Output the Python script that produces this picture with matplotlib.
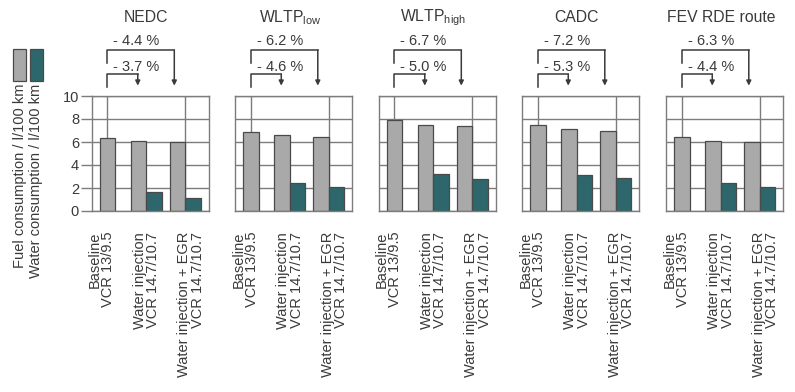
import matplotlib.pyplot as plt
from matplotlib.patches import Rectangle

plt.rcParams["font.family"] = ["Liberation Sans", "DejaVu Sans"]
plt.rcParams["font.size"] = 10.5
plt.rcParams["text.color"] = "#3a3a3a"

cycles = ["NEDC", "WLTP$_{\\mathregular{low}}$", "WLTP$_{\\mathregular{high}}$", "CADC", "FEV RDE route"]
variants = ["Baseline\nVCR 13/9.5", "Water injection\nVCR 14.7/10.7", "Water injection + EGR\nVCR 14.7/10.7"]

fuel = [
    [6.32, 6.07, 6.03],
    [6.90, 6.58, 6.47],
    [7.90, 7.52, 7.36],
    [7.48, 7.09, 6.95],
    [6.41, 6.10, 5.99],
]
water = [
    [0.0, 1.63, 1.10],
    [0.0, 2.46, 2.11],
    [0.0, 3.22, 2.75],
    [0.0, 3.16, 2.87],
    [0.0, 2.46, 2.09],
]
saving_wi = ["- 3.7 %", "- 4.6 %", "- 5.0 %", "- 5.3 %", "- 4.4 %"]
saving_egr = ["- 4.4 %", "- 6.2 %", "- 6.7 %", "- 7.2 %", "- 6.3 %"]

GRAY = "#a9a9a9"
TEAL = "#2d676b"
EDGE = "#4a4a4a"
LINE = "#3a3a3a"

W, H = 795, 392
fig = plt.figure(figsize=(W / 100, H / 100), dpi=100)

lefts = [91.5, 235, 378.5, 522, 666]
bw = 0.4


def bracket(ax, x_end, y_top, y_left, y_tip, label, y_text):
    ax.plot([0, 0, x_end], [y_left, y_top, y_top], color=LINE, lw=1.1, clip_on=False)
    ax.annotate("", xy=(x_end, y_tip), xytext=(x_end, y_top),
                arrowprops=dict(arrowstyle="-|>", color=LINE, lw=1.1,
                                mutation_scale=7, shrinkA=0, shrinkB=0),
                annotation_clip=False)
    ax.text(0.15, y_text, label, ha="left", va="center", fontsize=10.5, clip_on=False)


for i, left in enumerate(lefts):
    ax = fig.add_axes([left / W, (H - 211) / H, 117 / W, 115 / H])
    ax.set_axisbelow(True)
    f, w = fuel[i], water[i]
    # baseline only has fuel, centred on its gridline
    ax.bar(0, f[0], bw, color=GRAY, edgecolor=EDGE, lw=0.9)
    for k in (1, 2):
        ax.bar(k - 0.2, f[k], bw, color=GRAY, edgecolor=EDGE, lw=0.9)
        ax.bar(k + 0.2, w[k], bw, color=TEAL, edgecolor=EDGE, lw=0.9)

    ax.set_xlim(-0.41, 2.6)
    ax.set_ylim(0, 10)
    ax.set_yticks(range(0, 11, 2))
    ax.set_xticks([0, 1, 2], minor=True)
    ax.set_xticks([-0.15, 1.0, 2.15])
    ax.set_xticklabels(variants, rotation=90, ha="center", va="top",
                       multialignment="right", linespacing=0.95)
    ax.tick_params(axis="x", length=0, pad=15, colors="#3a3a3a")
    ax.tick_params(axis="x", which="minor", length=0)
    ax.grid(True, which="minor", axis="x", color="#7c7c7c", lw=1)
    ax.grid(True, which="major", axis="y", color="#7c7c7c", lw=1)
    if i == 0:
        ax.tick_params(axis="y", length=8, width=1, pad=1, colors="#3a3a3a")
        ax.tick_params(axis="y", color="#7c7c7c")
    else:
        ax.tick_params(axis="y", length=0, labelleft=False)
    for s in ax.spines.values():
        s.set_color("#7c7c7c")
        s.set_linewidth(1)

    ax.text(1.0, 16.8, cycles[i], ha="center", va="center", fontsize=11.3, clip_on=False)
    bracket(ax, 1.72, 14.0, 12.9, 10.9, saving_egr[i], 14.8)
    bracket(ax, 0.78, 11.9, 10.8, 10.9, saving_wi[i], 12.5)

# legend on the left, rotated
for x0, col in ((13, GRAY), (30, TEAL)):
    fig.patches.append(Rectangle((x0 / W, (H - 81) / H), 12.5 / W, 32 / H,
                                 transform=fig.transFigure, facecolor=col,
                                 edgecolor=EDGE, lw=0.9))
fig.text(20.5 / W, 1 - 84 / H, "Fuel consumption / l/100 km", rotation=90,
         ha="center", va="top", fontsize=10.5)
fig.text(36.5 / W, 1 - 84 / H, "Water consumption / l/100 km", rotation=90,
         ha="center", va="top", fontsize=10.5)

fig.savefig("out.png", dpi=100)
